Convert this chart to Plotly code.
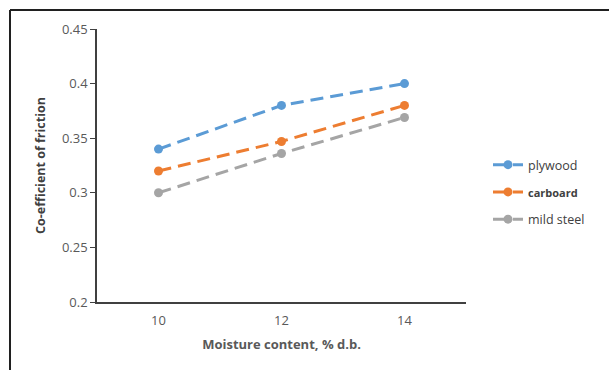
import plotly.graph_objects as go

moisture = ["10", "12", "14"]
plywood = [0.34, 0.38, 0.40]
carboard = [0.32, 0.347, 0.38]
mild_steel = [0.30, 0.336, 0.369]

series = [
    ("plywood", plywood, "#5B9BD5"),
    ("<span style='font-size:11px'><b>carboard</b></span>", carboard, "#ED7D31"),
    ("mild steel", mild_steel, "#A5A5A5"),
]

fig = go.Figure()
for i, (name, vals, color) in enumerate(series):
    fig.add_trace(go.Scatter(
        x=moisture, y=vals, name=name, mode="lines+markers",
        line=dict(color=color, width=3, dash="13px,7px"),
        marker=dict(color=color, size=9, symbol="circle"),
        legendgroup="g%d" % i,
    ))

L, R, T, B = 97, 143, 29, 68
W, H = 609, 370
pw, ph = W - L - R, H - T - B
bx = (10 - L) / pw
by = 1 + (T - 10) / ph

fig.update_layout(
    width=W, height=H,
    margin=dict(l=L, r=R, t=T, b=B),
    paper_bgcolor="white", plot_bgcolor="white",
    font=dict(family="Open Sans, Liberation Sans, sans-serif", color="#595959", size=13),
    showlegend=True,
    legend=dict(x=(488 - L) / pw, y=1 - (150 - T) / ph, xanchor="left", yanchor="top",
                font=dict(size=12.5, color="#404040"), tracegroupgap=8,
                bgcolor="rgba(0,0,0,0)"),
    xaxis=dict(type="category", range=[-0.5, 2.5], showline=True, linecolor="#404040",
               linewidth=1.5, ticks="", showgrid=False, zeroline=False,
               ticklabelstandoff=6,
               tickfont=dict(size=13, color="#595959"),
               title=dict(text="<b>Moisture content, % d.b.</b>", standoff=12,
                          font=dict(size=13, color="#595959"))),
    yaxis=dict(range=[0.2, 0.45], dtick=0.05, showline=True, linecolor="#404040",
               linewidth=1.5, ticks="outside", ticklen=5, tickcolor="#404040",
               showgrid=False, zeroline=False,
               tickfont=dict(size=13, color="#595959"),
               title=dict(text="<b>Co-efficient of friction</b>", standoff=14,
                          font=dict(size=12.5, color="#404040"))),
    shapes=[
        dict(type="line", xref="paper", yref="paper", x0=bx, x1=bx, y0=-1, y1=by,
             line=dict(color="#202020", width=2)),
        dict(type="line", xref="paper", yref="paper", x0=bx, x1=2, y0=by, y1=by,
             line=dict(color="#202020", width=2)),
    ],
)

fig.write_html("out.html")
